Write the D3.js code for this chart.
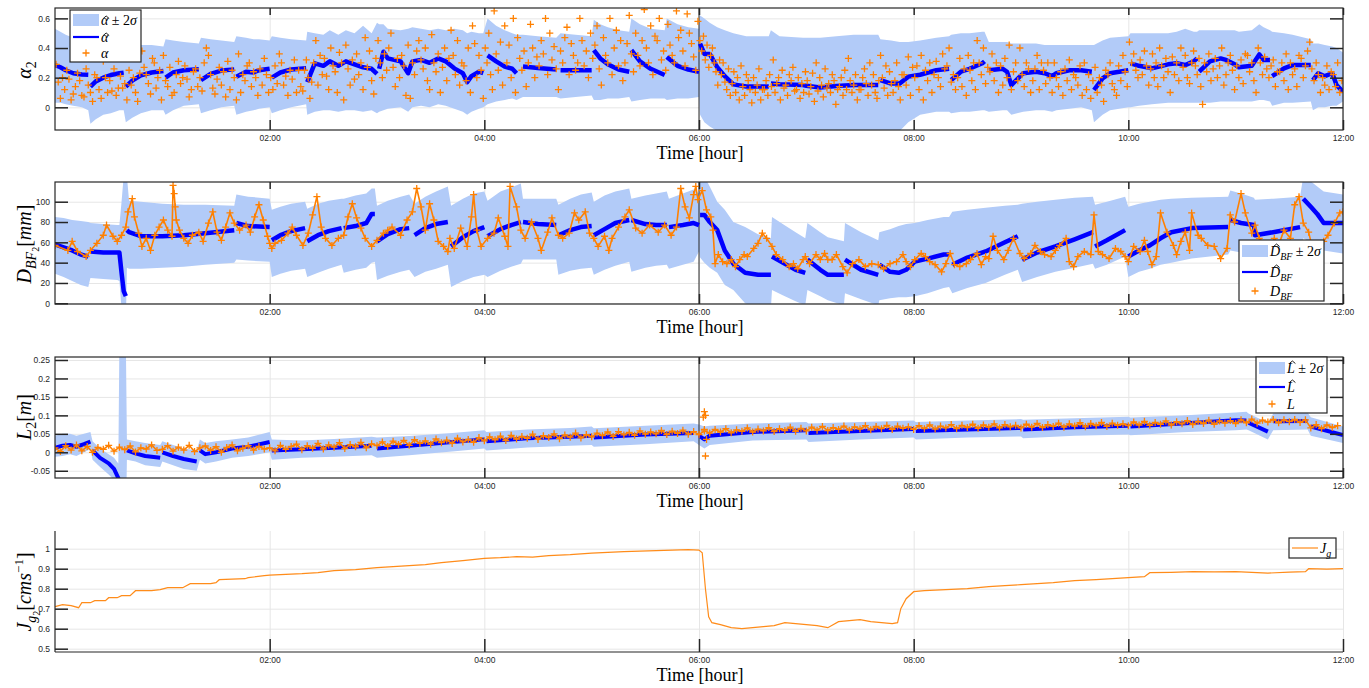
<!DOCTYPE html>
<html>
<head>
<meta charset="utf-8">
<script src="https://cdn.jsdelivr.net/npm/d3@7"></script>
<style>
  body { margin: 0; background: #fff; }
  svg { display: block; }
  .tick text { font-family: "Liberation Sans", Arial, sans-serif; font-size: 8.5px; fill: #262626; }
  .ax .tick line { stroke: #262626; stroke-width: 1.5; }
  .grid .tick line { stroke: #e6e6e6; stroke-width: 1; }
  .math { font-family: "Liberation Serif", "DejaVu Serif", serif; fill: #000; }
</style>
</head>
<body>
<svg id="fig" width="1369" height="688"></svg>
<script>
"use strict";

// ---- data (time in hours) ----
const hourTicks = [2, 4, 6, 8, 10, 12];
const hourLabels = ["02:00", "04:00", "06:00", "08:00", "10:00", "12:00"];

// estimate segments: [t, estimate, lower(-2σ), upper(+2σ)]
const alphaEst = [
  [[0, .285, .03, .53], [.05, .27, .03, .51], [.1, .25, .02, .49], [.17, .23, .01, .47], [.25, .222, 0, .45], [.31, .22, -.02, .44]],
  [[.33, .14, -.11, .42], [.38, .175, -.08, .42], [.45, .2, -.05, .41], [.52, .218, -.04, .41], [.6, .23, -.02, .41], [.64, .234, -.02, .4]],
  [[.66, .14, -.1, .43], [.72, .18, -.07, .43], [.8, .215, -.04, .42], [.9, .235, -.02, .42], [1.01, .245, -.02, .41]],
  [[1.03, .2, -.05, .46], [1.1, .235, -.02, .45], [1.2, .25, .01, .44], [1.34, .256, .02, .43]],
  [[1.36, .184, -.04, .47], [1.45, .225, -.02, .46], [1.55, .248, 0, .45], [1.67, .256, .01, .44]],
  [[1.69, .207, -.05, .48], [1.78, .24, -.03, .47], [1.85, .235, -.02, .46], [1.9, .25, -.01, .46], [2.0, .26, 0, .45]],
  [[2.02, .2, -.04, .48], [2.1, .235, -.02, .47], [2.2, .255, 0, .46], [2.34, .263, .02, .45]],
  [[2.35, .17, -.05, .51], [2.42, .297, -.03, .5], [2.5, .28, -.02, .49], [2.56, .31, -.02, .52], [2.64, .28, -.03, .49], [2.71, .31, -.02, .52], [2.79, .29, -.02, .5], [2.87, .27, -.03, .55], [2.95, .26, -.02, .5], [3.0, .225, -.04, .57]],
  [[3.02, .26, -.03, .56], [3.06, .375, -.02, .56], [3.1, .33, -.01, .53], [3.22, .31, 0, .52], [3.29, .23, -.03, .53], [3.33, .31, 0, .54], [3.41, .32, .01, .53], [3.49, .30, 0, .52], [3.57, .33, .02, .53], [3.64, .31, .01, .52], [3.72, .263, -.01, .53], [3.8, .23, -.03, .52], [3.84, .17, -.05, .5], [3.88, .21, -.03, .51], [3.95, .24, -.01, .5], [3.99, .23, 0, .5]],
  [[4.03, .35, .02, .6], [4.11, .31, .04, .55], [4.19, .275, .05, .52], [4.26, .26, .06, .5], [4.3, .23, .05, .49]],
  [[4.36, .275, .07, .49], [4.5, .265, .07, .48], [4.67, .255, .07, .47]],
  [[4.71, .25, .06, .5], [4.85, .25, .07, .49], [5.0, .25, .08, .48]],
  [[5.02, .386, .05, .59], [5.08, .33, .05, .56], [5.15, .29, .06, .54], [5.25, .255, .06, .52], [5.35, .24, .07, .51]],
  [[5.37, .386, .04, .6], [5.45, .31, .05, .56], [5.55, .26, .06, .53], [5.68, .218, .06, .52]],
  [[5.7, .34, .05, .6], [5.8, .28, .06, .56], [5.9, .255, .06, .54], [6.0, .24, .07, .53]],
  [[6.01, .43, -.05, .62], [6.05, .36, -.1, .6], [6.1, .36, -.13, .57], [6.17, .27, -.16, .54], [6.24, .21, -.2, .52], [6.32, .155, -.25, .5], [6.44, .14, -.3, .48], [6.65, .14, -.3, .48]],
  [[6.67, .16, -.3, .52], [6.75, .155, -.3, .48], [6.97, .15, -.3, .47], [7.0, .145, -.3, .47], [7.13, .133, -.3, .47], [7.28, .144, -.3, .48], [7.44, .15, -.28, .49], [7.67, .15, -.25, .49]],
  [[7.69, .184, -.25, .46], [7.79, .16, -.2, .45], [7.87, .16, -.16, .44], [7.95, .207, -.1, .44], [8.06, .22, -.05, .45], [8.21, .25, -.03, .47], [8.33, .26, -.03, .48]],
  [[8.35, .184, -.04, .49], [8.44, .24, -.03, .5], [8.52, .26, -.03, .5], [8.64, .297, -.02, .51], [8.66, .31, -.02, .51]],
  [[8.7, .25, -.03, .44], [8.83, .26, -.02, .44], [8.87, .24, -.02, .44], [8.91, .15, -.05, .43], [9.02, .23, -.03, .43], [9.14, .24, -.02, .43], [9.22, .23, -.02, .42], [9.29, .21, -.03, .42], [9.33, .23, -.02, .42], [9.45, .25, -.01, .42], [9.56, .25, 0, .42], [9.66, .24, -.02, .42]],
  [[9.68, .117, -.1, .42], [9.76, .195, -.05, .45], [9.83, .23, -.02, .47], [10.0, .25, 0, .48]],
  [[10.02, .297, 0, .5], [10.1, .28, .01, .5], [10.22, .263, .02, .5], [10.37, .29, .03, .5], [10.45, .297, .03, .51], [10.53, .285, .03, .53], [10.61, .31, .03, .51], [10.64, .33, .03, .51]],
  [[10.66, .24, .03, .52], [10.76, .31, .03, .52], [10.86, .33, .04, .52], [10.91, .32, .04, .52], [10.99, .29, .04, .52], [11.03, .27, .04, .51], [11.15, .28, .04, .52], [11.22, .357, .05, .56], [11.26, .32, .05, .54], [11.32, .32, .04, .52]],
  [[11.34, .21, .01, .51], [11.45, .263, .03, .5], [11.53, .285, .03, .49], [11.7, .285, .04, .46]],
  [[11.72, .184, -.02, .43], [11.77, .23, 0, .43], [11.83, .21, 0, .42], [11.9, .23, .01, .41], [11.94, .15, .01, .4], [12.0, .105, .04, .37]]
];

// alpha measurements, one row per 6-minute slot (row k starts at k*0.1 h), values in time order
const alphaObs = [
  [.29,.17,.06,.2,.12],[.25,.19,.05,.09,.14],[.23,.18,.08,.07,.26],[.15,.1,.04,.22,.2],[.12,.06,.31,.2,.1],
  [.18,.11,.26,.08,.13],[.21,.13,.16,.05,.25],[.15,.2,.1,.04,.23],[.38,.27,.22,.16,.09],[.33,.3,.13,.2,.25,.05],
  [.35,.18,.14,.27,.08],[.1,.22,.31,.16,.2],[.28,.19,.07,.12,.24],[.26,.14,.2,.11,.3],[.4,.35,.22,.13,.09],
  [.19,.27,.15,.24,.07],[.31,.12,.25,.2,.05],[.36,.1,.22,.18,.28],[.3,.14,.24,.2,.08],[.26,.15,.33,.22,.1],
  [.2,.12,.28,.16,.36],[.3,.15,.21,.08,.25],[.19,.32,.1,.25,.14],[.11,.25,.32,.2,.06,.17],[.3,.45,.15,.35,.22],
  [.33,.21,.12,.4,.28],[.24,.1,.37,.3,.05],[.42,.26,.15,.32,.19],[.36,.22,.3,.12,.47],[.27,.38,.18,.09,.33],
  [.45,.3,.2,.36,.25],[.4,.5,.27,.14,.33],[.2,.35,.28,.08,.42],[.06,.3,.22,.38,.45],[.32,.26,.4,.18,.12],
  [.49,.3,.24,.36,.1],[.27,.4,.18,.33,.52],[.35,.22,.45,.15,.3],[.28,.18,.4,.1,.55],[.43,.2,.35,.25,.06],
  [.4,.3,.5,.22,.12,.65],[.36,.25,.44,.15,.55],[.3,.42,.2,.6,.1],[.47,.33,.25,.38,.14],[.3,.56,.4,.2,.34],
  [.28,.45,.36,.6,.22],[.5,.32,.41,.26,.12],[.38,.3,.47,.54,.22],[.43,.35,.25,.3,.6],[.45,.28,.38,.2,.5],
  [.33,.42,.55,.26,.15],[.47,.35,.3,.6,.22],[.4,.52,.28,.45,.18],[.3,.43,.62,.36,.24],[.5,.35,.28,.45,.66],
  [.4,.3,.55,.22,.48],[.45,.6,.32,.38,.25],[.56,.42,.35,.3,.65],[.47,.52,.38,.28,.63],[.5,.43,.34,.25,.58],
  [.45,.38,.48,.32,.42,.27],[.35,.4,.3,.24,.15,.32],[.22,.3,.17,.12,.26,.08],[.16,.24,.1,.2,.05,.28],[.14,.08,.22,.18,.12,.03],
  [.2,.1,.15,.26,.05,.12],[.12,.18,.08,.22,.14,.32],[.1,.16,.2,.05,.25,.13],[.15,.08,.22,.18,.27,.11],[.12,.2,.06,.16,.1,.24],
  [.18,.09,.14,.23,.04,.3],[.11,.2,.15,.07,.26,.13],[.16,.1,.22,.18,.02,.12],[.14,.2,.08,.25,.12,.33],[.18,.1,.15,.22,.05,.12],
  [.12,.2,.26,.16,.08,.3],[.15,.22,.1,.06,.18,.35],[.2,.13,.28,.08,.24,.16],[.1,.18,.3,.14,.05,.22],[.22,.15,.34,.08,.27],
  [.2,.28,.12,.35,.05],[.25,.18,.3,.1,.22],[.31,.2,.14,.36,.26],[.28,.4,.17,.22,.12],[.2,.33,.14,.26,.08],
  [.35,.25,.18,.3,.12,.45],[.3,.22,.4,.16,.27],[.24,.36,.18,.3,.1],[.28,.15,.33,.2,.42],[.12,.24,.3,.18,.4],
  [.22,.14,.3,.26,.1],[.18,.26,.35,.12,.3],[.25,.16,.3,.2,.1],[.3,.2,.14,.24,.08],[.26,.18,.32,.12,.22],
  [.2,.15,.28,.08,.3],[.12,.22,.06,.18,.27],[.1,.2,.15,.04,.25],[.22,.3,.16,.12,.08],[.28,.18,.35,.24,.14],
  [.44,.3,.36,.25,.2],[.32,.22,.38,.28,.15],[.26,.36,.2,.3,.14,.4],[.28,.2,.33,.24,.1],[.34,.22,.3,.18,.4],
  [.27,.35,.2,.16,.3],[.38,.28,.22,.33,.14,.02],[.3,.24,.36,.18,.26],[.33,.2,.28,.4,.15],[.22,.3,.35,.25,.12],
  [.28,.2,.32,.16,.36],[.35,.24,.3,.18,.1],[.4,.3,.22,.34,.26],[.2,.28,.32,.14,.24],[.24,.3,.18,.36,.12],
  [.3,.22,.26,.14,.35],[.33,.2,.28,.38,.44],[.26,.18,.3,.22,.1],[.2,.15,.28,.12,.24],[.22,.14,.3,.1,.18]
];

const dbfEst = [
  [[0, 58, 29, 85], [.08, 55, 26, 84], [.16, 52, 22, 82], [.24, 48, 18, 81], [.31, 46, 16, 80]],
  [[.33, 51, 25, 79], [.45, 50, 24, 78], [.58, 50, 23, 77], [.6, 50, 22, 77], [.62, 30, -5, 100], [.64, 12, -20, 125], [.66, 7, -20, 125]],
  [[.67, 72, 35, 125], [.69, 70, 34, 101], [.8, 66, 34, 100], [1.0, 66, 35, 98], [1.2, 67, 36, 97], [1.4, 69, 38, 97], [1.67, 72, 40, 96]],
  [[1.69, 79, 43, 107], [1.8, 76, 42, 105], [2.0, 75, 41, 103]],
  [[2.02, 62, 26, 92], [2.1, 67, 29, 95], [2.2, 71, 32, 98], [2.33, 74, 34, 100]],
  [[2.35, 61, 26, 93], [2.45, 67, 30, 98], [2.55, 71, 34, 101], [2.67, 74, 38, 103]],
  [[2.69, 74, 30, 103], [2.8, 76, 33, 106], [2.9, 79, 35, 108], [2.95, 88, 40, 113], [2.98, 88, 41, 113]],
  [[3.0, 61, 23, 96], [3.1, 68, 27, 101], [3.22, 73, 31, 105], [3.3, 74, 33, 107]],
  [[3.35, 67, 26, 98], [3.45, 74, 31, 105], [3.55, 78, 34, 110], [3.66, 80, 38, 115]],
  [[3.69, 56, 16, 96], [3.8, 65, 22, 103], [3.9, 71, 26, 108], [4.0, 75, 28, 110]],
  [[4.03, 66, 26, 101], [4.15, 73, 32, 110], [4.25, 77, 36, 114], [4.34, 80, 39, 118]],
  [[4.36, 80, 43, 103], [4.5, 78, 43, 103], [4.67, 77, 43, 103]],
  [[4.69, 67, 28, 97], [4.8, 72, 32, 103], [4.9, 75, 34, 107], [5.0, 76, 35, 109]],
  [[5.02, 67, 28, 100], [5.12, 73, 33, 106], [5.22, 79, 37, 110], [5.35, 82, 41, 113]],
  [[5.37, 82, 31, 103], [5.5, 78, 35, 106], [5.6, 77, 37, 108], [5.7, 77, 38, 110]],
  [[5.72, 75, 34, 103], [5.85, 77, 38, 108], [5.95, 79, 41, 112], [6.0, 77, 51, 108]],
  [[6.01, 87, 45, 125], [6.05, 87, 40, 125], [6.1, 80, 35, 115], [6.17, 72, 30, 100], [6.24, 52, 18, 92], [6.32, 39, 13, 80], [6.43, 30, 0, 75], [6.55, 28, -5, 68], [6.67, 28, -5, 64]],
  [[6.68, 46, 13, 85], [6.78, 40, 8, 78], [6.9, 33, 2, 70], [6.99, 30, -2, 64]],
  [[7.01, 43, 13, 79], [7.13, 33, 7, 70], [7.2, 28, 3, 65], [7.35, 28, -2, 61]],
  [[7.36, 43, 10, 79], [7.51, 33, 4, 70], [7.67, 28, -2, 62]],
  [[7.68, 38, 3, 70], [7.78, 31, 5, 73], [7.86, 30, 6, 76], [7.93, 33, 6, 78], [8.01, 41, 7, 79], [8.13, 44, 10, 82], [8.28, 48, 15, 85], [8.33, 48, 16, 85]],
  [[8.36, 38, 10, 90], [8.5, 45, 15, 92], [8.67, 51, 20, 94], [8.85, 60, 28, 96], [8.97, 66, 33, 97]],
  [[9.01, 43, 21, 98], [9.15, 50, 26, 100], [9.32, 56, 31, 102], [9.5, 63, 35, 104], [9.67, 70, 39, 105]],
  [[9.69, 56, 34, 97], [9.8, 62, 38, 100], [9.97, 72, 46, 105]],
  [[10.0, 46, 26, 95], [10.1, 52, 31, 98], [10.2, 57, 34, 100], [10.3, 64, 38, 102], [10.4, 70, 40, 103], [10.59, 74, 44, 104], [10.93, 75, 48, 105]],
  [[10.95, 82, 52, 111], [11.05, 79, 50, 108], [11.17, 77, 45, 104], [11.18, 67, 42, 102], [11.35, 70, 44, 103], [11.6, 75, 46, 105]],
  [[11.63, 103, 64, 125], [11.7, 95, 60, 120], [11.76, 88, 56, 115], [11.82, 79, 52, 110], [12.0, 79, 49, 107]]
];

// D_BF measurements [t, value]
const dbfObs = [
  [0,57],[.12,52],[.16,61],[.21,51],[.29,46],[.33,52],[.39,59],[.45,67],[.48,77],[.54,66],[.58,61],[.62,67],[.66,75],[.68,90],[.72,103],
  [.74,85],[.78,69],[.81,56],[.85,64],[.89,52],[.93,67],[.97,75],[1.01,82],[1.05,72],[1.09,66],[1.1,116],[1.11,108],[1.12,95],[1.13,82],
  [1.16,72],[1.2,64],[1.24,59],[1.28,67],[1.34,70],[1.38,61],[1.43,79],[1.47,90],[1.51,70],[1.55,62],[1.59,75],[1.63,89],[1.67,79],
  [1.72,72],[1.78,77],[1.82,70],[1.86,85],[1.9,97],[1.94,82],[1.98,66],[2.0,59],[2.02,54],[2.05,59],[2.11,62],[2.17,69],[2.21,75],
  [2.25,67],[2.31,57],[2.36,69],[2.4,87],[2.44,105],[2.48,75],[2.52,64],[2.58,57],[2.64,64],[2.69,67],[2.73,85],[2.77,98],[2.81,84],
  [2.85,74],[2.89,64],[2.95,56],[3.0,62],[3.06,69],[3.1,72],[3.14,75],[3.22,67],[3.28,82],[3.33,90],[3.37,113],[3.41,95],[3.45,72],
  [3.49,98],[3.53,82],[3.57,61],[3.62,56],[3.66,51],[3.68,64],[3.72,54],[3.78,74],[3.84,56],[3.88,85],[3.9,107],[3.93,72],[3.97,56],
  [4.03,64],[4.09,69],[4.13,84],[4.19,66],[4.22,56],[4.24,115],[4.3,95],[4.34,72],[4.38,64],[4.44,80],[4.5,64],[4.53,52],[4.59,70],
  [4.63,84],[4.69,67],[4.73,64],[4.79,69],[4.84,89],[4.88,82],[4.94,90],[4.98,69],[5.02,64],[5.06,56],[5.12,66],[5.16,52],[5.19,64],
  [5.25,75],[5.31,85],[5.35,92],[5.41,74],[5.47,69],[5.54,77],[5.62,70],[5.68,77],[5.74,67],[5.79,75],[5.83,113],[5.87,95],[5.91,84],
  [5.95,107],[5.97,115],[5.99,102],[6.03,111],[6.07,92],[6.11,85],[6.13,72],[6.15,39],[6.18,48],[6.22,41],[6.26,39],[6.3,43],[6.34,36],
  [6.38,43],[6.42,48],[6.45,46],[6.51,54],[6.55,59],[6.59,69],[6.63,64],[6.68,56],[6.72,48],[6.78,43],[6.84,36],[6.88,39],[6.92,34],
  [6.97,43],[6.99,46],[7.03,39],[7.09,48],[7.13,43],[7.17,49],[7.2,43],[7.24,43],[7.28,48],[7.34,36],[7.38,30],[7.43,39],[7.49,43],
  [7.55,36],[7.61,39],[7.67,38],[7.72,34],[7.78,39],[7.84,41],[7.9,48],[7.93,41],[7.97,36],[8.01,43],[8.07,49],[8.11,46],[8.15,41],
  [8.2,38],[8.26,31],[8.3,39],[8.34,49],[8.38,38],[8.43,36],[8.49,39],[8.53,43],[8.59,49],[8.63,38],[8.67,46],[8.7,44],[8.74,66],
  [8.78,52],[8.84,43],[8.88,52],[8.93,64],[8.99,49],[9.03,44],[9.09,49],[9.13,57],[9.18,51],[9.22,48],[9.28,46],[9.32,52],[9.36,57],
  [9.42,64],[9.45,41],[9.49,36],[9.53,46],[9.59,51],[9.65,48],[9.68,87],[9.72,51],[9.76,48],[9.82,44],[9.88,54],[9.93,51],[9.97,46],
  [10.0,41],[10.05,56],[10.11,51],[10.15,62],[10.18,51],[10.22,38],[10.26,46],[10.3,89],[10.36,70],[10.42,57],[10.45,48],[10.49,61],
  [10.53,70],[10.57,52],[10.59,89],[10.65,67],[10.68,64],[10.74,57],[10.8,56],[10.86,44],[10.92,54],[10.95,87],[10.99,80],[11.05,108],
  [11.09,89],[11.15,69],[11.18,77],[11.22,64],[11.28,57],[11.32,52],[11.36,64],[11.4,57],[11.45,72],[11.51,64],[11.55,97],[11.59,105],
  [11.63,79],[11.68,70],[11.74,43],[11.78,49],[11.82,61],[11.86,67],[11.92,79],[11.97,89],[12.0,90]
];

const lEst = [
  [[0, .012, -.012, .045], [.07, .018, -.01, .05], [.14, .02, -.005, .05], [.2, .015, -.01, .045], [.27, .022, 0, .05], [.33, .029, .008, .055]],
  [[.35, .005, -.02, .03], [.42, -.015, -.04, .01], [.5, -.03, -.06, -.005], [.55, -.045, -.075, -.015], [.59, -.07, -.1, -.03], [.6, -.09, -.2, .3], [.66, -.1, -.2, .3]],
  [[.67, .005, -.02, .035], [.75, -.003, -.025, .03], [.84, -.01, -.035, .025], [.98, -.015, -.04, .02]],
  [[1.0, 0, -.025, .03], [1.1, -.01, -.035, .02], [1.2, -.018, -.045, .01], [1.32, -.025, -.05, .005]],
  [[1.35, .005, -.02, .035], [1.4, -.005, -.03, .025], [1.5, 0, -.025, .03], [1.65, .01, -.015, .035], [1.8, .015, -.01, .04], [2.0, .028, 0, .055]],
  [[2.02, .005, -.02, .035], [2.3, .008, -.015, .032], [2.6, .012, -.012, .036], [2.95, .018, -.008, .042]],
  [[3.0, .01, -.015, .04], [3.3, .018, -.008, .044], [3.7, .028, .002, .052], [4.0, .035, .01, .06]],
  [[4.02, .03, .005, .055], [4.4, .038, .013, .062], [4.8, .042, .018, .066], [5.0, .045, .02, .07]],
  [[5.02, .04, .015, .065], [5.5, .048, .022, .072], [5.95, .052, .03, .078]],
  [[6.0, .045, .02, .075], [6.05, .035, .01, .07], [6.1, .045, .02, .072], [6.5, .055, .032, .078], [7.0, .06, .035, .082]],
  [[7.02, .052, .028, .078], [7.5, .058, .035, .082], [8.0, .063, .04, .086]],
  [[8.02, .058, .035, .082], [8.5, .062, .04, .086], [9.0, .066, .043, .09]],
  [[9.02, .062, .038, .088], [9.5, .068, .045, .092], [10.0, .072, .048, .096]],
  [[10.02, .07, .046, .094], [10.5, .078, .054, .1], [11.0, .087, .06, .108], [11.1, .086, .062, .11]],
  [[11.12, .08, .06, .105], [11.3, .056, .035, .08]],
  [[11.35, .084, .06, .105], [11.67, .085, .062, .108]],
  [[11.7, .07, .045, .095], [12.0, .047, .025, .07]]
];

// L measurements: one row per hour, 20 readings at 3-minute spacing
const lObs = [
  [.012,.002,.018,.006,.02,.004,.016,0,.013,.008,.019,.003,.014,.007,.017,.001,.012,.009,.02,.005],
  [.008,.018,.003,.014,.006,.019,.002,.012,.017,.005,.015,0,.013,.02,.004,.011,.018,.006,.016,.009],
  [.012,.004,.019,.008,.016,.022,.007,.018,.011,.024,.009,.02,.014,.026,.01,.021,.015,.027,.012,.023],
  [.018,.028,.016,.03,.021,.032,.019,.034,.024,.031,.022,.036,.026,.033,.024,.038,.028,.035,.027,.04],
  [.031,.042,.034,.044,.032,.046,.036,.043,.038,.049,.035,.045,.04,.05,.037,.047,.041,.052,.039,.048],
  [.042,.052,.045,.055,.043,.056,.047,.054,.046,.058,.049,.055,.05,.059,.048,.057,.051,.06,.049,.056],
  [.048,.058,.052,.062,.055,.064,.053,.061,.057,.066,.055,.063,.058,.067,.056,.064,.059,.068,.057,.065],
  [.058,.068,.06,.07,.059,.067,.062,.071,.06,.069,.063,.072,.061,.07,.064,.073,.062,.071,.065,.069],
  [.062,.072,.064,.074,.063,.071,.066,.075,.064,.073,.067,.076,.065,.074,.068,.077,.066,.075,.069,.073],
  [.066,.076,.068,.078,.067,.075,.07,.079,.068,.077,.071,.08,.069,.078,.072,.081,.07,.079,.073,.077],
  [.072,.082,.074,.084,.073,.081,.076,.085,.074,.083,.077,.086,.075,.084,.078,.087,.076,.085,.079,.086],
  [.078,.088,.08,.09,.079,.087,.082,.089,.08,.088,.083,.089,.081,.088,.066,.075,.064,.074,.067,.072]
];
// outliers near 06:00 [t, value]
const lOutliers = [[6.04, .095], [6.05, .11], [6.06, .1], [6.05, .062], [6.06, -.01], [6.07, .035]];

// J_g [t, value]
const jg = [
  [0,.71],[.07,.72],[.15,.715],[.22,.705],[.25,.73],[.33,.73],[.37,.74],[.47,.74],[.5,.755],[.58,.755],[.62,.765],[.7,.765],
  [.75,.79],[.9,.79],[.98,.795],[1.05,.805],[1.19,.805],[1.26,.825],[1.45,.825],[1.5,.83],[1.53,.845],[1.77,.85],[1.8,.855],
  [1.95,.865],[2.0,.868],[2.15,.872],[2.3,.875],[2.45,.88],[2.6,.89],[2.8,.895],[3.0,.905],[3.15,.91],[3.3,.915],[3.45,.92],
  [3.6,.93],[3.8,.94],[4.0,.952],[4.15,.955],[4.3,.96],[4.45,.958],[4.6,.965],[4.8,.97],[5.0,.978],[5.15,.982],[5.3,.985],
  [5.45,.988],[5.6,.99],[5.75,.993],[5.9,.995],[6.0,.993],[6.03,.98],[6.06,.8],[6.09,.66],[6.12,.63],[6.2,.62],[6.3,.605],
  [6.4,.6],[6.5,.605],[6.6,.61],[6.7,.615],[6.8,.63],[6.9,.625],[7.0,.62],[7.1,.615],[7.2,.605],[7.3,.635],[7.4,.64],[7.5,.645],
  [7.6,.635],[7.7,.63],[7.8,.625],[7.85,.63],[7.88,.7],[7.93,.75],[8.0,.785],[8.1,.79],[8.3,.795],[8.5,.8],[8.7,.81],[8.85,.815],
  [9.0,.82],[9.15,.825],[9.3,.83],[9.5,.84],[9.7,.845],[9.85,.85],[10.0,.855],[10.15,.86],[10.2,.88],[10.4,.882],[10.6,.885],
  [10.8,.884],[11.0,.885],[11.15,.882],[11.3,.878],[11.5,.883],[11.65,.885],[11.68,.9],[11.85,.898],[12.0,.9]
];

// ---- drawing ----
const X0 = 55, X1 = 1343;
const BAND = "#b2cbf8", BLUE = "#0000ff", ORANGE = "#ff8000";
const svg = d3.select("#fig");
const defs = svg.append("defs");
const x = d3.scaleLinear().domain([0, 12]).range([X0, X1]);

const panels = [
  { key: "a", top: 8, bottom: 130, dom: [-0.153, 0.67], ticks: [0, .2, .4, .6], labels: ["0", "0.2", "0.4", "0.6"], box: true,
    ylab: [["α", {i: 1}], ["2", {s: 14, sh: 5}]], ycy: 70 },
  { key: "d", top: 182, bottom: 304, dom: [-0.7, 119.4], ticks: [0, 20, 40, 60, 80, 100], labels: ["0", "20", "40", "60", "80", "100"], box: true,
    ylab: [["D", {i: 1}], ["BF", {i: 1, s: 14, sh: 5}], ["2", {s: 10, sh: 8}], ["[", {}], ["mm", {i: 1}], ["]", {}]], ycy: 244 },
  { key: "l", top: 357, bottom: 478, dom: [-0.0696, 0.2581], ticks: [-.05, 0, .05, .1, .15, .2, .25], labels: ["-0.05", "0", "0.05", "0.1", "0.15", "0.2", "0.25"], box: true,
    ylab: [["L", {i: 1}], ["2", {s: 14, sh: 5}], ["[", {}], ["m", {i: 1}], ["]", {}]], ycy: 417 },
  { key: "j", top: 531, bottom: 652, dom: [0.4835, 1.0885], ticks: [.5, .6, .7, .8, .9, 1], labels: ["0.5", "0.6", "0.7", "0.8", "0.9", "1"], box: false,
    ylab: [["J", {i: 1}], ["g", {i: 1, s: 14, sh: 5}], ["2", {s: 10, sh: 9}], ["[", {}], ["cms", {i: 1}], ["−1", {s: 13, sh: -8}], ["]", {}]], ycy: 592 }
];

// text made of tspans; parts flagged hat get a small circumflex drawn above them
function mathText(sel, parts, base) {
  let cur = 0, idx = 0;
  const hats = [];
  parts.forEach(([str, o]) => {
    const sh = o.sh || 0;
    sel.append("tspan").attr("dy", sh - cur).attr("font-size", o.s || base)
      .attr("font-style", o.i ? "italic" : "normal").text(str);
    if (o.hat) hats.push({ idx, h: o.hat });
    cur = sh;
    idx += str.length;
  });
  const par = d3.select(sel.node().parentNode);
  const baseY = +sel.attr("y");
  hats.forEach(hh => {
    const ext = sel.node().getExtentOfChar(hh.idx);
    const cx = ext.x + ext.width / 2 + 1.5;
    const top = baseY - hh.h;
    par.append("path").attr("d", `M${cx - 3},${top + 2.5}L${cx},${top}L${cx + 3},${top + 2.5}`)
      .attr("fill", "none").attr("stroke", "#000").attr("stroke-width", 0.9);
  });
}

function setup(p) {
  const y = d3.scaleLinear().domain(p.dom).range([p.bottom, p.top]);
  const g = svg.append("g");
  defs.append("clipPath").attr("id", "clip-" + p.key).append("rect")
    .attr("x", X0).attr("y", p.top).attr("width", X1 - X0).attr("height", p.bottom - p.top);
  const gy = g.append("g").attr("class", "grid").attr("transform", `translate(${X0},0)`)
    .call(d3.axisLeft(y).tickValues(p.ticks).tickSize(-(X1 - X0)).tickFormat(""));
  gy.select(".domain").remove();
  const gx = g.append("g").attr("class", "grid").attr("transform", `translate(0,${p.bottom})`)
    .call(d3.axisBottom(x).tickValues(hourTicks).tickSize(-(p.bottom - p.top)).tickFormat(""));
  gx.select(".domain").remove();
  const plot = g.append("g").attr("clip-path", `url(#clip-${p.key})`);
  return { g, y, plot };
}

function axes(p, P) {
  const { g, y } = P;
  const h = p.bottom - p.top;
  const left = g.append("g").attr("class", "ax").attr("transform", `translate(${X0},0)`)
    .call(d3.axisLeft(y).tickValues(p.ticks).tickFormat((d, i) => p.labels[i]).tickSize(-13).tickPadding(5));
  left.select(".domain").remove();
  const bot = g.append("g").attr("class", "ax").attr("transform", `translate(0,${p.bottom})`)
    .call(d3.axisBottom(x).tickValues(hourTicks).tickFormat((d, i) => hourLabels[i]).tickSize(p.box ? -10 : -13).tickPadding(5));
  bot.select(".domain").remove();
  if (p.box) {
    const right = g.append("g").attr("class", "ax").attr("transform", `translate(${X1},0)`)
      .call(d3.axisRight(y).tickValues(p.ticks).tickFormat("").tickSize(-13));
    right.select(".domain").remove();
    const top = g.append("g").attr("class", "ax").attr("transform", `translate(0,${p.top})`)
      .call(d3.axisTop(x).tickValues(hourTicks).tickFormat("").tickSize(-7));
    top.select(".domain").remove();
    g.append("rect").attr("x", X0).attr("y", p.top).attr("width", X1 - X0).attr("height", h)
      .attr("fill", "none").attr("stroke", "#262626").attr("stroke-width", 1.2);
  } else {
    g.append("line").attr("x1", X0).attr("x2", X0).attr("y1", p.top).attr("y2", p.bottom)
      .attr("stroke", "#262626").attr("stroke-width", 1.2);
    g.append("line").attr("x1", X0).attr("x2", X1).attr("y1", p.bottom).attr("y2", p.bottom)
      .attr("stroke", "#262626").attr("stroke-width", 1.2);
  }
  g.selectAll(".ax .tick text").attr("fill", "#262626");
  g.append("text").attr("class", "math").attr("x", (X0 + X1) / 2 + 1).attr("y", p.bottom + 29)
    .attr("text-anchor", "middle").attr("font-size", 18).text("Time [hour]");
  const yl = g.append("text").attr("class", "math").attr("text-anchor", "middle")
    .attr("transform", `translate(31,${p.ycy}) rotate(-90)`).attr("font-size", 20);
  mathText(yl, p.ylab, 20);
}

const cross = "M-3.5,0H3.5M0,-3.5V3.5";

function drawEstimate(P, segs, lw) {
  const flat = segs.flat();
  P.plot.append("path").datum(flat).attr("fill", BAND)
    .attr("d", d3.area().x(d => x(d[0])).y0(d => P.y(d[2])).y1(d => P.y(d[3])));
  P.plot.append("line").attr("x1", x(6)).attr("x2", x(6)).attr("y1", P.y.range()[1]).attr("y2", P.y.range()[0])
    .attr("stroke", "#262626").attr("stroke-width", 1);
  const line = d3.line().x(d => x(d[0])).y(d => P.y(d[1]));
  P.plot.selectAll("path.est").data(segs).join("path").attr("class", "est")
    .attr("fill", "none").attr("stroke", BLUE).attr("stroke-width", lw)
    .attr("stroke-linejoin", "round").attr("d", line);
}

function drawTrace(P, pts, w) {
  P.plot.append("path").datum(pts).attr("fill", "none").attr("stroke", ORANGE).attr("stroke-width", w)
    .attr("d", d3.line().x(d => x(d[0])).y(d => P.y(d[1])));
}

function drawCrosses(P, pts, w) {
  P.plot.append("g").selectAll("path").data(pts).join("path")
    .attr("transform", d => `translate(${x(d[0])},${P.y(d[1])})`)
    .attr("d", cross).attr("stroke", ORANGE).attr("stroke-width", w || 1.3).attr("fill", "none");
}

function legend(g, bx, by, bw, bh, rows) {
  const lg = g.append("g");
  lg.append("rect").attr("x", bx).attr("y", by).attr("width", bw).attr("height", bh)
    .attr("fill", "#fff").attr("stroke", "#262626").attr("stroke-width", 1.2);
  rows.forEach(r => {
    if (r.kind === "patch") lg.append("rect").attr("x", bx + 3).attr("y", r.y - 6).attr("width", 26).attr("height", 12).attr("fill", BAND);
    if (r.kind === "line") lg.append("line").attr("x1", bx + 3).attr("x2", bx + 29).attr("y1", r.y).attr("y2", r.y)
      .attr("stroke", r.color).attr("stroke-width", r.w);
    if (r.kind === "mark") lg.append("path").attr("transform", `translate(${bx + 16},${r.y})`).attr("d", cross)
      .attr("stroke", ORANGE).attr("stroke-width", 1.3);
    const t = lg.append("text").attr("class", "math").attr("x", bx + 31).attr("y", r.y + 5).attr("font-size", 14);
    mathText(t, r.text, 14);
  });
}

const P = panels.map(setup);

// panel 1: alpha
drawEstimate(P[0], alphaEst, 4.5);
const alphaPts = [];
alphaObs.forEach((row, k) => row.forEach((v, j) => alphaPts.push([k * 0.1 + (j + 0.5) * 0.1 / row.length, v])));
drawCrosses(P[0], alphaPts);

// panel 2: D_BF
drawEstimate(P[1], dbfEst, 4.5);
drawTrace(P[1], dbfObs, 1.6);
drawCrosses(P[1], dbfObs);

// panel 3: L
drawEstimate(P[2], lEst, 4);
const lPts = [];
lObs.forEach((row, h) => row.forEach((v, j) => lPts.push([h + j * 0.05, v])));
drawTrace(P[2], lPts, 1.6);
drawCrosses(P[2], lPts.concat(lOutliers), 1.3);

// panel 4: J_g
P[3].plot.append("path").datum(jg).attr("fill", "none").attr("stroke", "#ff8c1a").attr("stroke-width", 1.2)
  .attr("d", d3.line().x(d => x(d[0])).y(d => P[3].y(d[1])));

panels.forEach((p, i) => axes(p, P[i]));

legend(P[0].g, 70, 10, 71, 52, [
  { kind: "patch", y: 20, text: [["α", {i: 1, hat: 9}], [" ± 2", {}], ["σ", {i: 1}]] },
  { kind: "line", y: 37, color: BLUE, w: 2.2, text: [["α", {i: 1, hat: 9}]] },
  { kind: "mark", y: 53, text: [["α", {i: 1}]] }
]);
legend(P[1].g, 1239, 240, 85, 61, [
  { kind: "patch", y: 251, text: [["D", {i: 1, hat: 12}], ["BF", {i: 1, s: 10, sh: 4}], [" ± 2", {sh: 0}], ["σ", {i: 1}]] },
  { kind: "line", y: 272, color: BLUE, w: 2.2, text: [["D", {i: 1, hat: 12}], ["BF", {i: 1, s: 10, sh: 4}]] },
  { kind: "mark", y: 291, text: [["D", {i: 1}], ["BF", {i: 1, s: 10, sh: 4}]] }
]);
legend(P[2].g, 1256, 357, 71, 56, [
  { kind: "patch", y: 368, text: [["L", {i: 1, hat: 12}], [" ± 2", {}], ["σ", {i: 1}]] },
  { kind: "line", y: 387, color: BLUE, w: 2.2, text: [["L", {i: 1, hat: 12}]] },
  { kind: "mark", y: 404, text: [["L", {i: 1}]] }
]);
legend(P[3].g, 1289, 538, 47, 20, [
  { kind: "line", y: 548, color: "#ff8c1a", w: 1.2, text: [["J", {i: 1}], ["g", {i: 1, s: 10, sh: 4}]] }
]);
</script>
</body>
</html>
